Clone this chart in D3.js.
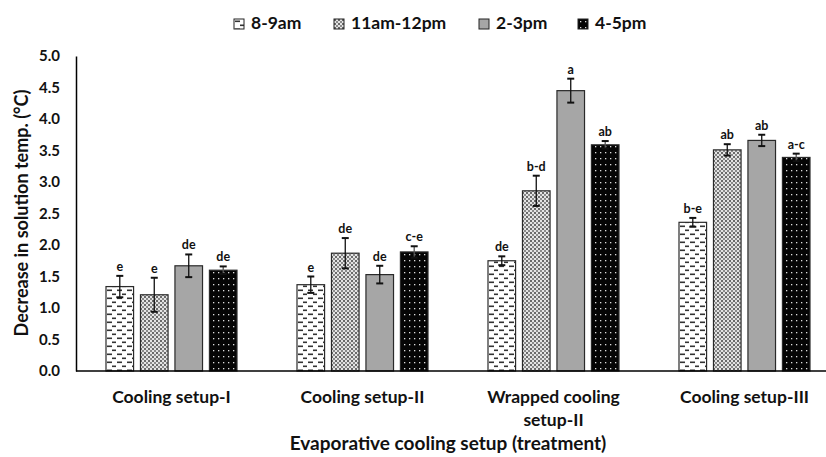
<!DOCTYPE html>
<html>
<head>
<meta charset="utf-8">
<script src="https://cdn.jsdelivr.net/npm/d3@7"></script>
<style>
  body { margin: 0; background: #fff; }
  text { font-family: Lato, "Open Sans", sans-serif; font-weight: bold; fill: #111; }
</style>
</head>
<body>
<div id="chart"></div>
<script>
// data
const categories = ["Cooling setup-I", "Cooling setup-II", "Wrapped cooling setup-II", "Cooling setup-III"];
const series = ["8-9am", "11am-12pm", "2-3pm", "4-5pm"];
const values = [
  [1.34, 1.21, 1.67, 1.60],
  [1.37, 1.87, 1.53, 1.89],
  [1.75, 2.86, 4.45, 3.59],
  [2.36, 3.51, 3.66, 3.39]
];
const errors = [
  [0.17, 0.27, 0.18, 0.06],
  [0.13, 0.24, 0.14, 0.09],
  [0.07, 0.24, 0.19, 0.06],
  [0.07, 0.09, 0.09, 0.06]
];
const letters = [
  ["e", "e", "de", "de"],
  ["e", "de", "de", "c-e"],
  ["de", "b-d", "a", "ab"],
  ["b-e", "ab", "ab", "a-c"]
];
const yTicks = [0, 0.5, 1, 1.5, 2, 2.5, 3, 3.5, 4, 4.5, 5];

const W = 826, H = 457;
const margin = {top: 56, left: 76, bottom: 86};
const plotBottom = H - margin.bottom;

const svg = d3.select("#chart").append("svg")
  .attr("width", W).attr("height", H);

// fill patterns
const defs = svg.append("defs");
let p = defs.append("pattern").attr("id", "pat0").attr("patternUnits", "userSpaceOnUse")
  .attr("width", 10).attr("height", 8);
p.append("rect").attr("width", 10).attr("height", 8).attr("fill", "#fff");
p.append("rect").attr("x", 1).attr("y", 1.5).attr("width", 5).attr("height", 1.6).attr("fill", "#333");
p.append("rect").attr("x", 6).attr("y", 5.5).attr("width", 5).attr("height", 1.6).attr("fill", "#333");

p = defs.append("pattern").attr("id", "pat1").attr("patternUnits", "userSpaceOnUse")
  .attr("width", 4).attr("height", 4);
p.append("rect").attr("width", 4).attr("height", 4).attr("fill", "#e4e4e4");
p.append("rect").attr("width", 2).attr("height", 2).attr("fill", "#6a6a6a");
p.append("rect").attr("x", 2).attr("y", 2).attr("width", 2).attr("height", 2).attr("fill", "#8a8a8a");

p = defs.append("pattern").attr("id", "pat3").attr("patternUnits", "userSpaceOnUse")
  .attr("width", 5).attr("height", 6);
p.append("rect").attr("width", 5).attr("height", 6).attr("fill", "#050505");
p.append("rect").attr("x", 2).attr("y", 2).attr("width", 1.3).attr("height", 1.3).attr("fill", "#ddd");

const fills = ["url(#pat0)", "url(#pat1)", "#a6a6a6", "url(#pat3)"];

// scales
const x0 = d3.scaleBand().domain(categories).range([margin.left, margin.left + 4 * 191]);
const x1 = d3.scaleBand().domain(series).range([30, 161]).paddingInner(0.2);
const y = d3.scaleLinear().domain([0, 5]).range([plotBottom, margin.top]);

// y axis
const yAxis = svg.append("g")
  .attr("transform", `translate(${margin.left},0)`)
  .call(d3.axisLeft(y).tickValues(yTicks).tickFormat(d3.format(".1f")).tickSize(0).tickPadding(16));
yAxis.select(".domain").attr("stroke", "#000").attr("stroke-width", 1.5);
yAxis.selectAll("text").style("font-size", "15px").style("font-family", "Lato, sans-serif")
  .style("font-weight", "bold").attr("fill", "#111");

// bars
const groups = svg.selectAll("g.grp").data(categories).enter().append("g")
  .attr("class", "grp")
  .attr("transform", d => `translate(${x0(d)},0)`);

groups.each(function(cat, ci) {
  const g = d3.select(this);
  series.forEach((s, si) => {
    const v = values[ci][si], e = errors[ci][si];
    const bx = x1(s), bw = x1.bandwidth(), cx = bx + bw / 2;
    g.append("rect")
      .attr("x", bx).attr("y", y(v))
      .attr("width", bw).attr("height", y(0) - y(v))
      .attr("fill", fills[si]).attr("stroke", "#2a2a2a").attr("stroke-width", 1.2);
    // error bar
    g.append("line").attr("x1", cx).attr("x2", cx)
      .attr("y1", y(v + e)).attr("y2", y(v - e))
      .attr("stroke", si === 3 ? "#555" : "#111").attr("stroke-width", 1.3);
    [v + e, v - e].forEach(t => {
      g.append("line").attr("x1", cx - 3.5).attr("x2", cx + 3.5)
        .attr("y1", y(t)).attr("y2", y(t))
        .attr("stroke", "#111").attr("stroke-width", 2);
    });
    g.append("text").attr("x", cx).attr("y", y(v + e) - 5)
      .attr("text-anchor", "middle").style("font-size", "12.5px")
      .text(letters[ci][si]);
  });
});

// x axis line
svg.append("line").attr("x1", margin.left).attr("x2", W)
  .attr("y1", plotBottom).attr("y2", plotBottom)
  .attr("stroke", "#000").attr("stroke-width", 1.5);

// category labels (wrapped as in the source)
const catLines = {"Wrapped cooling setup-II": ["Wrapped cooling", "setup-II"]};
categories.forEach(c => {
  const lines = catLines[c] || [c];
  const t = svg.append("text").attr("text-anchor", "middle")
    .attr("y", 403).style("font-size", "17.5px");
  lines.forEach((l, i) => {
    t.append("tspan").attr("x", x0(c) + x0.bandwidth() / 2).attr("dy", i === 0 ? 0 : 23).text(l);
  });
});

// axis titles
svg.append("text").attr("x", 448).attr("y", 450).attr("text-anchor", "middle")
  .style("font-size", "19px").text("Evaporative cooling setup (treatment)");
svg.append("text").attr("transform", "translate(28,213) rotate(-90)")
  .attr("text-anchor", "middle").style("font-size", "18px")
  .text("Decrease in solution temp. (°C)");

// legend
const legendX = [234, 334, 479, 578];
const legend = svg.selectAll("g.leg").data(series).enter().append("g")
  .attr("class", "leg")
  .attr("transform", (d, i) => `translate(${legendX[i]},19)`);
legend.append("rect").attr("width", 10).attr("height", 10)
  .attr("fill", (d, i) => fills[i]).attr("stroke", "#222").attr("stroke-width", 1);
legend.append("text").attr("x", 17).attr("y", 10)
  .style("font-size", "17.5px").text(d => d);
</script>
</body>
</html>
